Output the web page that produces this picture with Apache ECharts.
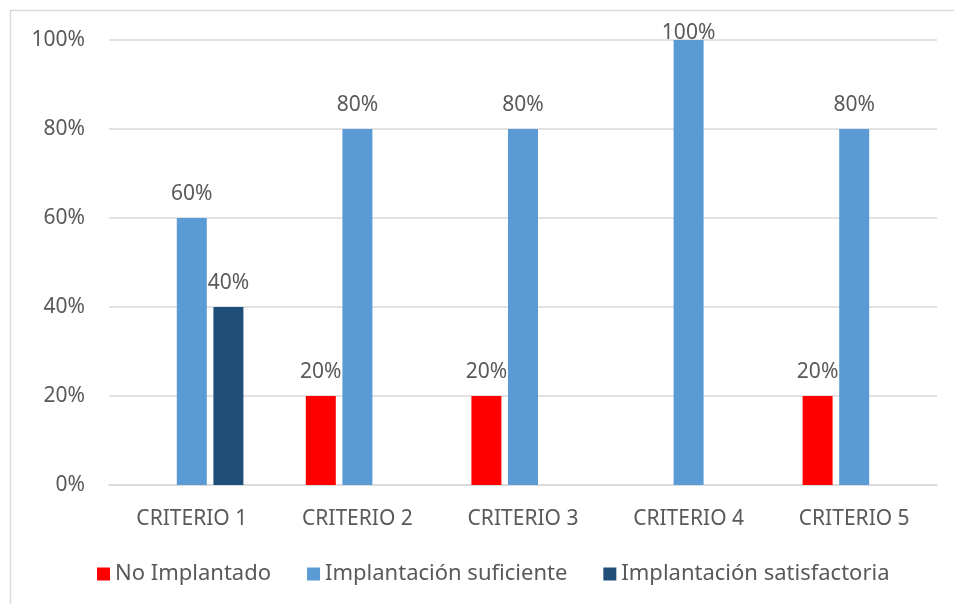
<!DOCTYPE html>
<html>
<head>
<meta charset="utf-8">
<script src="https://cdn.jsdelivr.net/npm/echarts@6/dist/echarts.min.js"></script>
<style>html,body{margin:0;padding:0;background:#fff;}#c{width:954px;height:604px;}</style>
</head>
<body>
<div id="c"></div>
<script>
const categories = ['CRITERIO 1', 'CRITERIO 2', 'CRITERIO 3', 'CRITERIO 4', 'CRITERIO 5'];
const seriesNames = ['No Implantado', 'Implantación suficiente', 'Implantación satisfactoria'];
const noImplantado = [0, 20, 20, 0, 20];
const suficiente = [60, 80, 80, 100, 80];
const satisfactoria = [40, 0, 0, 0, 0];
const yTicks = [0, 20, 40, 60, 80, 100];

const colors = ['#ff0000', '#5b9bd5', '#1f4e79'];
const FONT = 'Noto Sans';
const TXT = '#595959';

function mk(values) {
  return values.map(v => v >= 100 ? { value: v, label: { distance: -4 } } : v);
}

const chart = echarts.init(document.getElementById('c'), null, { renderer: 'canvas' });
const dataSets = [noImplantado, suficiente, satisfactoria];
chart.setOption({
  animation: false,
  textStyle: { fontFamily: FONT },
  grid: { left: 109, right: 17, top: 40, bottom: 119, containLabel: false },
  graphic: [{
    type: 'rect', shape: { x: 10.5, y: 10.5, width: 2000, height: 2000 },
    style: { fill: 'none', stroke: '#d9d9d9', lineWidth: 1.5 }, silent: true
  }],
  legend: {
    left: 97, top: 563, padding: 0, itemWidth: 13, itemHeight: 13, itemGap: 36,
    icon: 'rect',
    textStyle: { color: TXT, fontSize: 22, fontFamily: FONT },
    data: seriesNames
  },
  xAxis: {
    type: 'category', data: categories,
    axisLine: { lineStyle: { color: '#d9d9d9', width: 1.5 } },
    axisTick: { show: false },
    axisLabel: { color: TXT, fontSize: 21, fontFamily: FONT, margin: 24 }
  },
  yAxis: {
    type: 'value', min: yTicks[0], max: yTicks[yTicks.length - 1], interval: 20,
    axisLine: { show: false }, axisTick: { show: false },
    splitLine: { lineStyle: { color: '#d9d9d9', width: 1.5 } },
    axisLabel: { color: TXT, fontSize: 21, fontFamily: FONT, margin: 24, formatter: v => v + '%' }
  },
  series: seriesNames.map((name, i) => ({
    name, type: 'bar', data: mk(dataSets[i]),
    barWidth: 30, barGap: '22%',
    itemStyle: { color: colors[i] },
    label: {
      show: true, position: 'top', distance: 13, color: TXT, fontSize: 21, fontFamily: FONT,
      formatter: p => p.value ? p.value + '%' : ''
    }
  }))
});
</script>
</body>
</html>
